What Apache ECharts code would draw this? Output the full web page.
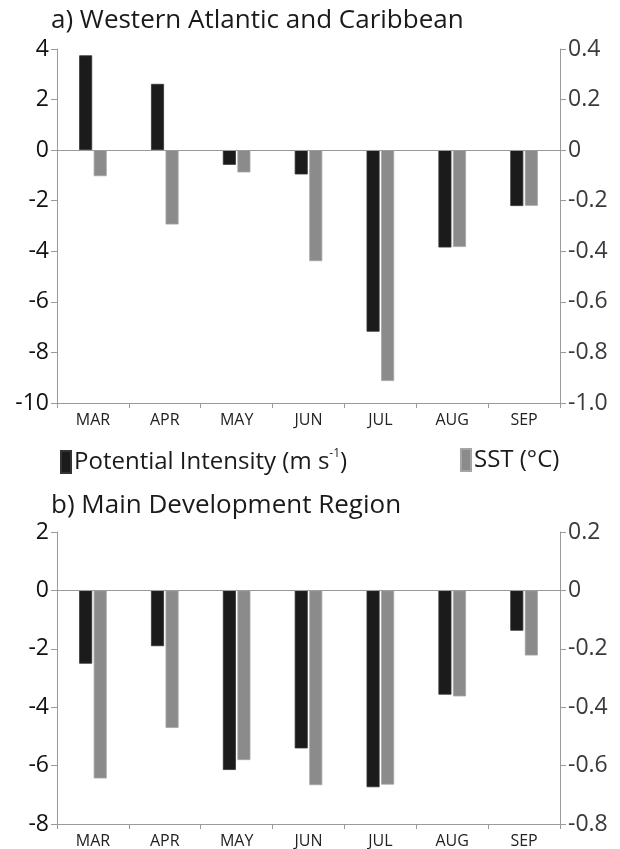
<!DOCTYPE html>
<html>
<head>
<meta charset="utf-8">
<script src="https://cdn.jsdelivr.net/npm/echarts@6/dist/echarts.min.js"></script>
<style>
  html, body { margin: 0; padding: 0; background: #ffffff; }
  #chart { width: 620px; height: 849px; }
</style>
</head>
<body>
<div id="chart"></div>
<script>
// Months shown on both panels
const months = ['MAR', 'APR', 'MAY', 'JUN', 'JUL', 'AUG', 'SEP'];

// a) Western Atlantic and Caribbean
const piWestern = [3.75, 2.62, -0.58, -0.96, -7.18, -3.85, -2.21];      // m s-1
const sstWestern = [-0.103, -0.294, -0.088, -0.439, -0.913, -0.383, -0.220]; // °C

// b) Main Development Region
const piMDR = [-2.51, -1.91, -6.15, -5.41, -6.74, -3.57, -1.38];        // m s-1
const sstMDR = [-0.644, -0.471, -0.581, -0.667, -0.665, -0.363, -0.223];    // °C

// Axis ranges and tick steps
const leftAxisA = { min: -10, max: 4, interval: 2 };
const rightAxisA = { min: -1.0, max: 0.4, interval: 0.2 };
const leftAxisB = { min: -8, max: 2, interval: 2 };
const rightAxisB = { min: -0.8, max: 0.2, interval: 0.2 };

const PI_NAME = 'Potential Intensity';
const SST_NAME = 'SST';

const FONT = 'Open Sans';
const AXIS_GRAY = '#9a9a9a';
const BLACK_BAR = '#1b1b1b';
const GRAY_BAR = '#8b8b8b';

const chart = echarts.init(document.getElementById('chart'), null, { renderer: 'canvas' });

function catAxis(gridIndex) {
  return {
    type: 'category',
    gridIndex: gridIndex,
    data: months,
    boundaryGap: true,
    axisLine: { show: true, onZero: false, lineStyle: { color: AXIS_GRAY, width: 1 } },
    axisTick: { show: true, length: 5, lineStyle: { color: AXIS_GRAY } },
    axisLabel: { fontFamily: FONT, fontSize: 16, color: '#222', margin: 9 },
    splitLine: { show: false }
  };
}

function valAxis(gridIndex, range, position, color, fmt) {
  return {
    type: 'value',
    gridIndex: gridIndex,
    position: position,
    min: range.min,
    max: range.max,
    interval: range.interval,
    axisLine: { show: true, onZero: false, lineStyle: { color: AXIS_GRAY, width: 1 } },
    axisTick: { show: true, length: 6, lineStyle: { color: AXIS_GRAY } },
    axisLabel: { fontFamily: FONT, fontSize: 23, color: color, margin: 8, formatter: fmt },
    splitLine: { show: false }
  };
}

const fmtLeft = v => String(Math.round(v));
const fmtRight = v => (Math.abs(v) < 1e-9 ? '0' : v.toFixed(1));

function barSeries(name, data, xIdx, yIdx, color, border, withZeroLine) {
  const s = {
    name: name,
    type: 'bar',
    xAxisIndex: xIdx,
    yAxisIndex: yIdx,
    data: data,
    barWidth: 13,
    barGap: '12%',
    itemStyle: { color: color, borderColor: border, borderWidth: 0.8 },
    emphasis: { disabled: true },
    animation: false
  };
  if (withZeroLine) {
    s.markLine = {
      silent: true,
      symbol: 'none',
      label: { show: false },
      lineStyle: { color: AXIS_GRAY, width: 1, type: 'solid' },
      data: [{ yAxis: 0 }],
      animation: false
    };
  }
  return s;
}

const option = {
  backgroundColor: '#ffffff',
  animation: false,
  title: [
    {
      text: 'a) Western Atlantic and Caribbean',
      left: 46, top: 3,
      textStyle: { fontFamily: FONT, fontSize: 26, fontWeight: 'normal', color: '#1a1a1a' }
    },
    {
      text: 'b) Main Development Region',
      left: 46, top: 488,
      textStyle: { fontFamily: FONT, fontSize: 26, fontWeight: 'normal', color: '#1a1a1a' }
    }
  ],
  legend: [
    {
      data: [PI_NAME],
      left: 55, top: 443,
      icon: 'rect',
      itemWidth: 10, itemHeight: 22, itemGap: 0,
      selectedMode: false,
      formatter: () => '{t|Potential Intensity (m s}{s|-1}{t|)}',
      textStyle: {
        padding: [0, 0, 0, -2],
        rich: {
          t: { fontFamily: FONT, fontSize: 24, color: '#1a1a1a', lineHeight: 28 },
          s: { fontFamily: FONT, fontSize: 12, color: '#1a1a1a', verticalAlign: 'top', lineHeight: 16 }
        }
      }
    },
    {
      data: [SST_NAME],
      left: 455, top: 443,
      icon: 'rect',
      itemWidth: 10, itemHeight: 22, itemGap: 0,
      selectedMode: false,
      formatter: () => 'SST (°C)',
      textStyle: { fontFamily: FONT, fontSize: 24, color: '#1a1a1a', padding: [0, 0, 0, -2] }
    }
  ],
  grid: [
    { left: 57, right: 60, top: 49, height: 354 },
    { left: 57, right: 60, top: 532, height: 295 }
  ],
  xAxis: [catAxis(0), catAxis(1)],
  yAxis: [
    valAxis(0, leftAxisA, 'left', '#111', fmtLeft),
    valAxis(0, rightAxisA, 'right', '#3a3a3a', fmtRight),
    valAxis(1, leftAxisB, 'left', '#111', fmtLeft),
    valAxis(1, rightAxisB, 'right', '#3a3a3a', fmtRight)
  ],
  series: [
    barSeries(PI_NAME, piWestern, 0, 0, BLACK_BAR, '#333', true),
    barSeries(SST_NAME, sstWestern, 0, 1, GRAY_BAR, '#a5a5a5', false),
    barSeries(PI_NAME, piMDR, 1, 2, BLACK_BAR, '#333', true),
    barSeries(SST_NAME, sstMDR, 1, 3, GRAY_BAR, '#a5a5a5', false)
  ]
};

chart.setOption(option);
</script>
</body>
</html>
